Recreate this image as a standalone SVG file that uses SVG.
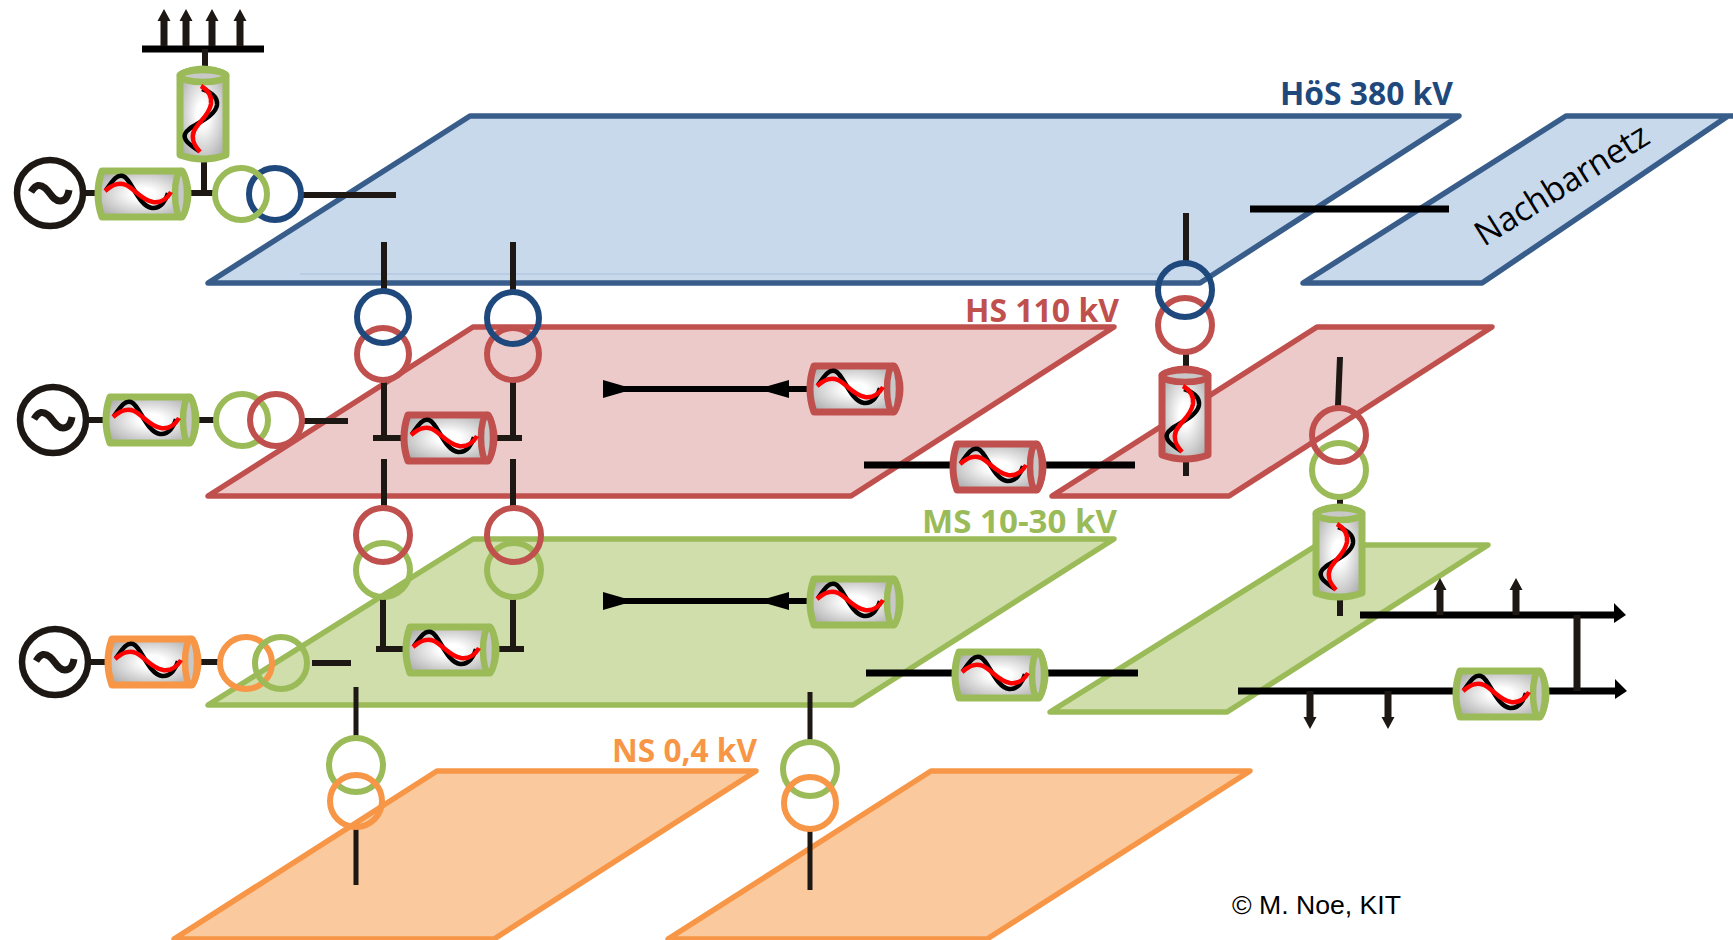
<svg xmlns="http://www.w3.org/2000/svg" width="1733" height="940" viewBox="0 0 1733 940">
<style>
.pl{stroke-width:5.5;stroke-linejoin:round}
.pb{stroke:#385d8a;fill:#c8d9ec}
.pr{stroke:#c0504d;fill:#edcaca}
.pg{stroke:#9bbb59;fill:#cfdeab}
.po{stroke:#f79646;fill:#fbc99e}
.tr{fill:none;stroke-width:6}
.cb{stroke:#1f497d}.cr{stroke:#c0504d}.cg{stroke:#9bbb59}.co{stroke:#f79646}
.r{color:#c0504d}.g{color:#9bbb59}.o{color:#f79646}
.w{fill:none;stroke:#1d1814;stroke-width:6}
.k{fill:none;stroke:#000;stroke-width:7}
.t{stroke:none;fill:#1d1814}
.kt{stroke:none;fill:#000}
.lab{font-family:"Open Sans",sans-serif;font-weight:700;font-size:32px}
.gen{fill:#fff;stroke:#1d1814;stroke-width:6.5}
</style>
<defs>
<radialGradient id="grad" cx="50%" cy="50%" r="65%">
<stop offset="0.2" stop-color="#ffffff"/><stop offset="1" stop-color="#a6a6a6"/>
</radialGradient>
<g id="cyl">
<path d="M-41,-23H39Q45,-12 45,0Q45,12 39,23H-41Q-45,12 -45,0Q-45,-12 -41,-23Z" fill="url(#grad)" stroke="currentColor" stroke-width="7" stroke-linejoin="round"/>
<ellipse cx="38" cy="0" rx="6" ry="23" fill="#c8c8c8" stroke="currentColor" stroke-width="6.5"/>
<path d="M-37,-4C-30,-14 -26,-20 -20,-18C-12,-16 -5,12 9,14C18,15 23,6 25,-1" fill="none" stroke="#000" stroke-width="4.5"/>
<path d="M-38,-3C-30,-10 -24,-12 -17,-9C-8,-5 -2,6 10,8C18,9 24,5 28,-2" fill="none" stroke="#f00" stroke-width="4.5"/>
</g>
<g id="gen">
<circle r="33" class="gen"/>
<path d="M-19,-1C-14,-9 -10,-9 -5,-5C0,-1 3,8 10,8C16,8 18,3 19,-3" fill="none" stroke="#1d1814" stroke-width="7"/>
</g>
<path id="up" class="t" d="M-3.5,0V-25H-6.5L0,-37L6.5,-25H3.5V0Z"/>
<path id="dn" class="t" d="M-3.5,0V26H-6.5L0,38L6.5,26H3.5V0Z"/>
</defs>
<rect width="1733" height="940" fill="#fff"/>

<g id="plane-hoes-main"><path class="pl pb" d="M208,283L470,116H1459L1200,283Z"/><path d="M300,274H1170" stroke="#a9c0dc" stroke-width="1" fill="none"/></g>
<g id="plane-hoes-neighbour"><path class="pl pb" d="M1303,283L1566,116H1740L1728,116L1482,283Z"/></g>
<g id="plane-hs-main"><path class="pl pr" d="M208,496L473,327H1114L851,496Z"/></g>
<g id="plane-hs-right"><path class="pl pr" d="M1052,496L1317,327H1492L1229,496Z"/></g>
<g id="plane-ms-main"><path class="pl pg" d="M208,705L473,539H1114L853,705Z"/></g>
<g id="plane-ms-right"><path class="pl pg" d="M1050,712L1317,545H1488L1227,712Z"/></g>
<g id="plane-ns-left"><path class="pl po" d="M174,939L437,771H756L494,939Z"/></g>
<g id="plane-ns-right"><path class="pl po" d="M668,939L931,771H1250L987,939Z"/></g>

<g id="connectors">
<path class="k" d="M142,49H264"/>
<use href="#up" x="164" y="46"/><use href="#up" x="186" y="46"/><use href="#up" x="212" y="46"/><use href="#up" x="240" y="46"/>
<path class="w" d="M205,49V68M204,160V194M86,193H98M188,193H214M298,195H396"/>
<path class="w" d="M384,242V292M513,242V292"/>
<path class="w" d="M384,382V438M373,438H405M513,382V438M494,438H522M384,459V510M513,459V510"/>
<path class="w" d="M383,597V649M376,649H407M513,597V649M498,649H524"/>
<path class="w" d="M87,420H105M197,420H215M303,421H348"/>
<path class="w" d="M90,662H106M199,662H219M312,663H351"/>
<path class="k" style="stroke-width:6" d="M603,389H810"/>
<path class="kt" d="M603,380L634,389L603,398ZM789,380L758,389L789,398Z"/>
<path class="k" style="stroke-width:6" d="M603,601H810"/>
<path class="kt" d="M603,592L634,601L603,610ZM789,592L758,601L789,610Z"/>
<path class="w" d="M1186,213V265M1186,351V369M1186,460V476"/>
<path class="k" d="M1250,209H1449"/>
<path class="k" d="M864,465H955M1044,465H1135M866,673H957M1046,673H1138"/>
<path class="w" d="M1340,357L1338,406M1340,495V507M1340,597V616"/>
<path class="k" d="M1360,615H1615M1238,691H1455M1547,691H1615"/>
<path class="kt" d="M1614,603L1626,615L1614,623ZM1615,679L1627,691L1615,699Z"/>
<path class="w" style="stroke-width:7" d="M1577,615V691"/>
<use href="#up" x="1440" y="615"/><use href="#up" x="1516" y="615"/>
<use href="#dn" x="1310" y="691"/><use href="#dn" x="1388" y="691"/>
<path class="w" style="stroke-width:5" d="M356,687V740M356,827V885M810,692V745M810,831V890"/>
</g>

<g id="gen-1"><use href="#gen" x="50" y="193"/></g>
<g id="gen-2"><use href="#gen" x="53" y="420"/></g>
<g id="gen-3"><use href="#gen" x="55" y="662"/></g>

<g id="cyl-top" class="g"><use href="#cyl" transform="translate(203,114) rotate(-90)"/></g>
<g id="cyl-gen1" class="g"><use href="#cyl" x="143" y="194"/></g>
<g id="cyl-gen2" class="g"><use href="#cyl" x="151" y="420"/></g>
<g id="cyl-gen3" class="o"><use href="#cyl" x="153" y="662"/></g>
<g id="cyl-hs-bus" class="r"><use href="#cyl" x="449" y="438"/></g>
<g id="cyl-hs-right" class="r"><use href="#cyl" x="855" y="389"/></g>
<g id="cyl-hs-mid" class="r"><use href="#cyl" x="998" y="467"/></g>
<g id="cyl-hs-vert" class="r"><use href="#cyl" transform="translate(1185,414) rotate(-90)"/></g>
<g id="cyl-ms-bus" class="g"><use href="#cyl" x="451" y="650"/></g>
<g id="cyl-ms-right" class="g"><use href="#cyl" x="855" y="602"/></g>
<g id="cyl-ms-mid" class="g"><use href="#cyl" x="1000" y="675"/></g>
<g id="cyl-ms-vert" class="g"><use href="#cyl" transform="translate(1339,552) rotate(-90)"/></g>
<g id="cyl-feeder" class="g"><use href="#cyl" x="1501" y="694"/></g>

<g id="trafo-1"><circle class="tr cb" cx="275" cy="194" r="26"/><circle class="tr cg" cx="241" cy="194" r="26"/></g>
<g id="trafo-2"><circle class="tr cg" cx="242" cy="420" r="26"/><circle class="tr cr" cx="276" cy="420" r="26"/></g>
<g id="trafo-3"><circle class="tr co" cx="246" cy="663" r="26"/><circle class="tr cg" cx="281" cy="663" r="26"/></g>
<g id="trafo-4"><circle class="tr cr" cx="383" cy="354" r="26"/><circle class="tr cb" cx="383" cy="317" r="26"/></g>
<g id="trafo-5"><circle class="tr cr" cx="513" cy="354" r="26"/><circle class="tr cb" cx="513" cy="318" r="26"/></g>
<g id="trafo-6"><circle class="tr cg" cx="383" cy="570" r="27"/><circle class="tr cr" cx="383" cy="535" r="27"/></g>
<g id="trafo-7"><circle class="tr cg" cx="514" cy="570" r="27"/><circle class="tr cr" cx="514" cy="535" r="27"/></g>
<g id="trafo-8"><circle class="tr cr" cx="1185" cy="325" r="27"/><circle class="tr cb" cx="1185" cy="290" r="27"/></g>
<g id="trafo-9"><circle class="tr cg" cx="1339" cy="470" r="27"/><circle class="tr cr" cx="1339" cy="435" r="27"/></g>
<g id="trafo-10"><circle class="tr cg" cx="356" cy="765" r="27"/><circle class="tr co" cx="356" cy="801" r="26"/></g>
<g id="trafo-11"><circle class="tr cg" cx="810" cy="769" r="27"/><circle class="tr co" cx="810" cy="803" r="26"/></g>

<g id="labels">
<text class="lab" x="1280" y="105" fill="#1f497d" textLength="173" lengthAdjust="spacingAndGlyphs">HöS 380 kV</text>
<text class="lab" x="965" y="322" fill="#c0504d" textLength="154" lengthAdjust="spacingAndGlyphs">HS 110 kV</text>
<text class="lab" x="922" y="533" fill="#9bbb59" textLength="195" lengthAdjust="spacingAndGlyphs">MS 10-30 kV</text>
<text class="lab" x="612" y="762" fill="#f79646" textLength="145" lengthAdjust="spacingAndGlyphs">NS 0,4 kV</text>
<text x="1232" y="914" font-family="'Liberation Sans',Arial,sans-serif" font-size="26" fill="#000" textLength="169" lengthAdjust="spacingAndGlyphs">© M. Noe, KIT</text>
<text transform="translate(1484,247) rotate(-32)" font-family="'Open Sans',sans-serif" font-size="34" fill="#000" textLength="198" lengthAdjust="spacingAndGlyphs">Nachbarnetz</text>
</g>
</svg>
